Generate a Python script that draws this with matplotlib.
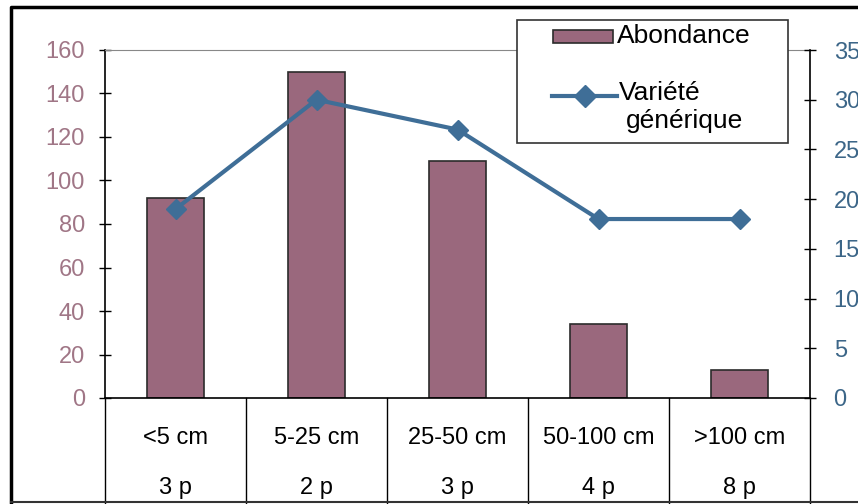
import matplotlib.pyplot as plt
from matplotlib.lines import Line2D
from matplotlib.patches import Rectangle
import numpy as np

plt.rcParams['font.family'] = ['Liberation Sans', 'DejaVu Sans']

categories = ['<5 cm', '5-25 cm', '25-50 cm', '50-100 cm', '>100 cm']
placettes = ['3 p', '2 p', '3 p', '4 p', '8 p']
abondance = [92, 150, 109, 34, 13]
variete = [19, 30, 27, 18, 18]

bar_color = '#9a687d'
line_color = '#3f6e97'

W, H = 858, 504
fig = plt.figure(figsize=(W / 100, H / 100), dpi=100)
ax = fig.add_axes([105 / W, 106 / H, 705 / W, 348 / H])


def px(x, y):
    # pixel position from the top-left corner -> figure fraction
    return x / W, 1 - y / H


x = np.arange(len(categories))
ax.bar(x, abondance, 0.41, color=bar_color, edgecolor='#2b2b2b', linewidth=1.2, zorder=2)
ax.set_xlim(-0.5, len(categories) - 0.5)
ax.set_ylim(0, 160)
ax.set_yticks(np.arange(0, 161, 20))
ax.tick_params(axis='y', direction='inout', length=9, width=1, colors='black',
               labelcolor='#a07686', labelsize=17, pad=10)
ax.set_xticks([])
for side in ['left', 'bottom']:
    ax.spines[side].set_linewidth(1.2)
ax.spines['top'].set_color('#888888')
ax.spines['top'].set_linestyle((0, (1, 1)))
ax.spines['right'].set_visible(False)

ax2 = ax.twinx()
ax2.plot(x, variete, color=line_color, linewidth=3, marker='D', markersize=10, zorder=3)
ax2.set_ylim(0, 35)
ax2.set_yticks(np.arange(0, 36, 5))
ax2.tick_params(axis='y', direction='inout', length=9, width=1, colors='black',
                labelcolor='#3c6688', labelsize=17, pad=12.5)
ax2.spines['right'].set_linewidth(1.2)
for side in ['top', 'left', 'bottom']:
    ax2.spines[side].set_visible(False)

# table under the x axis
trans = ax.get_xaxis_transform()
for b in np.arange(-0.5, len(categories)):
    ax.plot([b, b], [0, -0.31], transform=trans, color='black', lw=1, clip_on=False)
for i in x:
    ax.text(i, -0.115, categories[i], transform=trans, ha='center', va='center', fontsize=17)
    ax.text(i, -0.258, placettes[i], transform=trans, ha='center', va='center', fontsize=17)

# legend box
x0, y0 = px(517, 143)
x1, y1 = px(788, 20)
fig.add_artist(Rectangle((x0, y0), x1 - x0, y1 - y0, facecolor='white',
                         edgecolor='#333333', lw=1.2, zorder=5))
hx0, hy0 = px(553, 43)
hx1, hy1 = px(613, 30)
fig.add_artist(Rectangle((hx0, hy0), hx1 - hx0, hy1 - hy0, facecolor=bar_color,
                         edgecolor='#2b2b2b', lw=1.2, zorder=6))
fig.text(*px(617, 36), 'Abondance', fontsize=19, va='center', ha='left', zorder=6)
lx0, ly = px(552, 96)
lx1, _ = px(617, 96)
fig.add_artist(Line2D([lx0, lx1], [ly, ly], color=line_color, lw=3, zorder=6))
fig.add_artist(Line2D([(lx0 + lx1) / 2], [ly], color=line_color, marker='D',
                      markersize=11, zorder=6))
fig.text(*px(619, 93), 'Variété', fontsize=19, va='center', ha='left', zorder=6)
fig.text(*px(626, 121), 'générique', fontsize=19, va='center', ha='left', zorder=6)

# outer chart border
fig.add_artist(Line2D([11 / W, 11 / W, 1], [1 - 502 / H, 1 - 7 / H, 1 - 7 / H],
                      color='black', lw=2.5))
fig.add_artist(Line2D([11 / W, 1], [1 - 502 / H, 1 - 502 / H], color='#333333', lw=1.5))

fig.savefig('out.png', dpi=100)
